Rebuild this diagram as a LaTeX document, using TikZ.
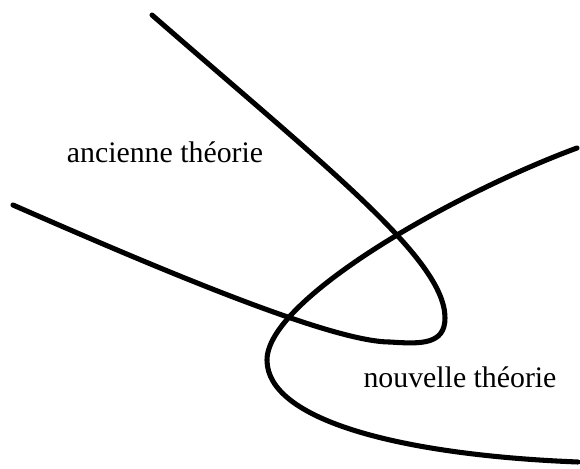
\documentclass[tikz,border=0pt]{standalone}
\usepackage{fontspec}
\setmainfont{Liberation Serif}
\usepackage{tikz}
\tikzset{
  theory/.style={draw=black,line width=3.6pt,line cap=round},
  tlab/.style={font=\fontsize{21.2}{24}\selectfont,inner sep=0pt,anchor=base},
}

\begin{document}
\begin{tikzpicture}[x=0.025cm,y=-0.025cm]
  \useasboundingbox (0,0) rectangle (580,468);

  % ---- old theory ----
  \draw[theory] (152,15) .. controls (330,170) and (445,260) .. (445,318)
                .. controls (445,345) and (420,344) .. (390,342)
                .. controls (330,342) and (150,265) .. (13,205);
  % ---- new theory ----
  \draw[theory] (577,148) .. controls (450,195) and (267,300) .. (267,360)
                .. controls (267,420) and (400,455) .. (578,462);

  % ---- labels ----
  \node[tlab] (ancienne) at (165,162) {ancienne théorie};
  \node[tlab] (nouvelle) at (460,387) {nouvelle théorie};
\end{tikzpicture}
\end{document}
